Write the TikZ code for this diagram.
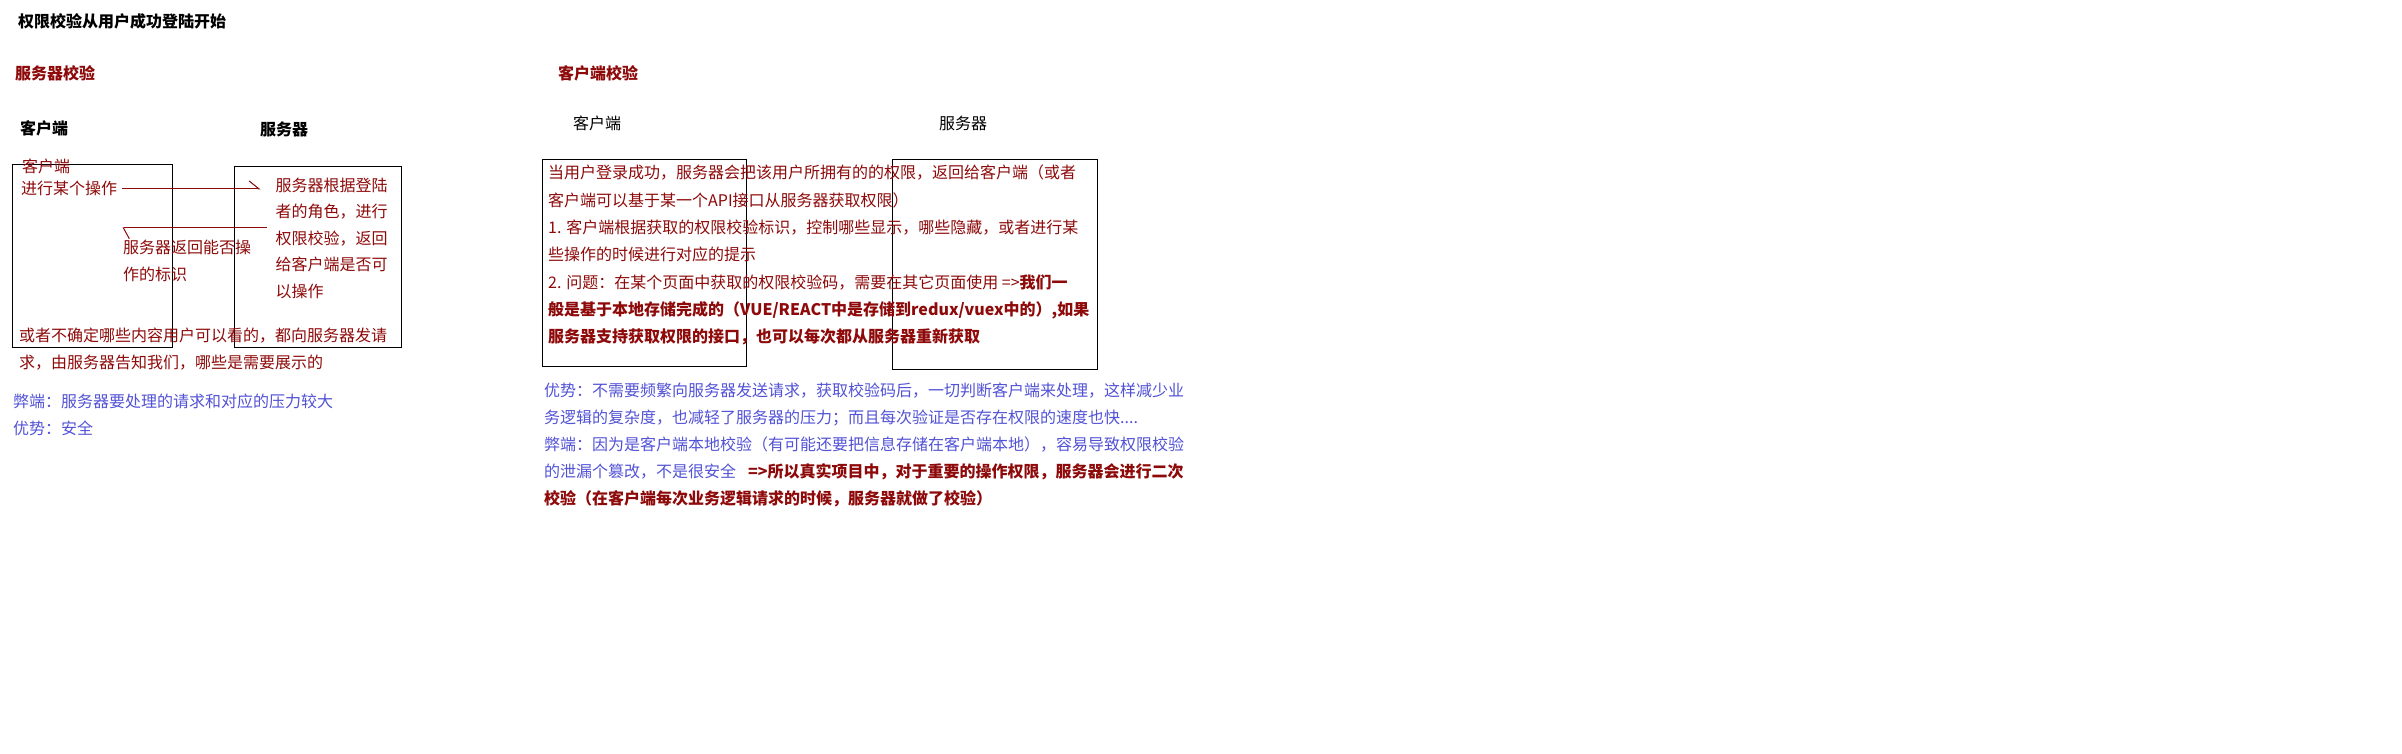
\documentclass[tikz,border=0pt]{standalone}
\usepackage{fontspec}
\setmainfont{Noto Sans CJK SC}
\usepackage{tikz}
\usetikzlibrary{positioning, arrows.meta}
\definecolor{deepred}{HTML}{8E0A0A}
\definecolor{softblue}{HTML}{5252D6}
\newcommand{\pxfont}[2]{\fontsize{#1}{#2}\selectfont}
\tikzset{title_t/.style={anchor=base west, inner sep=0pt, font=\pxfont{16}{18}\bfseries},
head_t/.style={anchor=base west, inner sep=0pt, text=deepred, font=\pxfont{16}{18}\bfseries},
lab_t/.style={anchor=base west, inner sep=0pt, font=\pxfont{16}{18}\bfseries},
lab_r/.style={anchor=base west, inner sep=0pt, font=\pxfont{16}{18}},
note_t/.style={anchor=base west, inner sep=0pt, align=left, text=deepred, font=\pxfont{16}{26.5}},
para_t/.style={anchor=base west, inner sep=0pt, align=left, text=deepred, font=\pxfont{16}{27.3}},
pro_t/.style={anchor=base west, inner sep=0pt, align=left, text=softblue, font=\pxfont{16}{27.5}},
pro_r/.style={anchor=base west, inner sep=0pt, align=left, text=softblue, font=\pxfont{16}{27}},
frame/.style={draw, line width=1.3pt, inner sep=0pt, anchor=north west},
flow/.style={draw=deepred, line width=1pt, -{Straight Barb[left, length=10pt, width=16pt]}},
flow_back/.style={flow, -{Straight Barb[left, length=6pt, width=22pt]}}}

\begin{document}
\begin{tikzpicture}[x=1pt, y=-1pt]
  \path[fill=white, use as bounding box] (0,0) rectangle (2402,754);
  \node[title_t] (title) at (18,27.3) {权限校验从用户成功登陆开始};
  % server side check
  \node[head_t] (srv_head) at (15,79.4) {服务器校验};
  \node[lab_t] (c_lab) at (20,134.6) {客户端};
  \node[lab_t] (s_lab) at (260,136) {服务器};
  \node[frame, minimum width=160, minimum height=183] (cbox) at (12,164) {};
  \node[frame, minimum width=167, minimum height=181] (sbox) at (234,166) {};
  \node[note_t] (c_name) at (22,173) {客户端};
  \node[note_t] (op) at (21,195) {进行某个操作};
  \node[note_t] (srv_txt) at (275.5,297.3) {服务器根据登陆\\者的角色，进行\\权限校验，返回\\给客户端是否可\\以操作};
  \node[note_t] (ret_txt) at (123,280) {服务器返回能否操\\作的标识};
  \node[note_t] (or_txt) at (19,368.4) {或者不确定哪些内容用户可以看的，都向服务器发请\\求，由服务器告知我们，哪些是需要展示的};
  \node[pro_t] (pro_l) at (13,434.5) {弊端：服务器要处理的请求和对应的压力较大\\优势：安全};
  \draw[flow] ([xshift=5pt]op.east) -- ([xshift=-15pt]op.east -| srv_txt.west);
  \draw[flow_back] ([shift={(-9,-12)}]srv_txt.west |- ret_txt.north) -- ([shift={(-0.5,-12)}]ret_txt.north west);
  % client side check
  \node[head_t] (cli_head) at (558,79.4) {客户端校验};
  \node[lab_r] (c_lab2) at (573,130) {客户端};
  \node[lab_r] (s_lab2) at (939,130) {服务器};
  \node[frame, minimum width=204, minimum height=207] (cbox2) at (542,159) {};
  \node[frame, minimum width=205, minimum height=210] (sbox2) at (892,159) {};
  \node[para_t] (para) at (548,342.7) {当用户登录成功，服务器会把该用户所拥有的的权限，返回给客户端（或者\\
    客户端可以基于某一个API接口从服务器获取权限）\\
    1. 客户端根据获取的权限校验标识，控制哪些显示，哪些隐藏，或者进行某\\
    些操作的时候进行对应的提示\\
    2. 问题：在某个页面中获取的权限校验码，需要在其它页面使用 =>{\bfseries 我们一}\\
    {\bfseries 般是基于本地存储完成的（VUE/REACT中是存储到redux/vuex中的）,如果}\\
    {\bfseries 服务器支持获取权限的接口，也可以每次都从服务器重新获取}};
  \node[pro_r] (pro_c) at (544,504.9) {优势：不需要频繁向服务器发送请求，获取校验码后，一切判断客户端来处理，这样减少业\\
    务逻辑的复杂度，也减轻了服务器的压力；而且每次验证是否存在权限的速度也快....\\
    弊端：因为是客户端本地校验（有可能还要把信息存储在客户端本地），容易导致权限校验\\
    的泄漏个篡改，不是很安全\hspace{12pt}\textcolor{deepred}{\bfseries =>所以真实项目中，对于重要的操作权限，服务器会进行二次}\\
    \textcolor{deepred}{\bfseries 校验（在客户端每次业务逻辑请求的时候，服务器就做了校验）}};
\end{tikzpicture}
\end{document}
